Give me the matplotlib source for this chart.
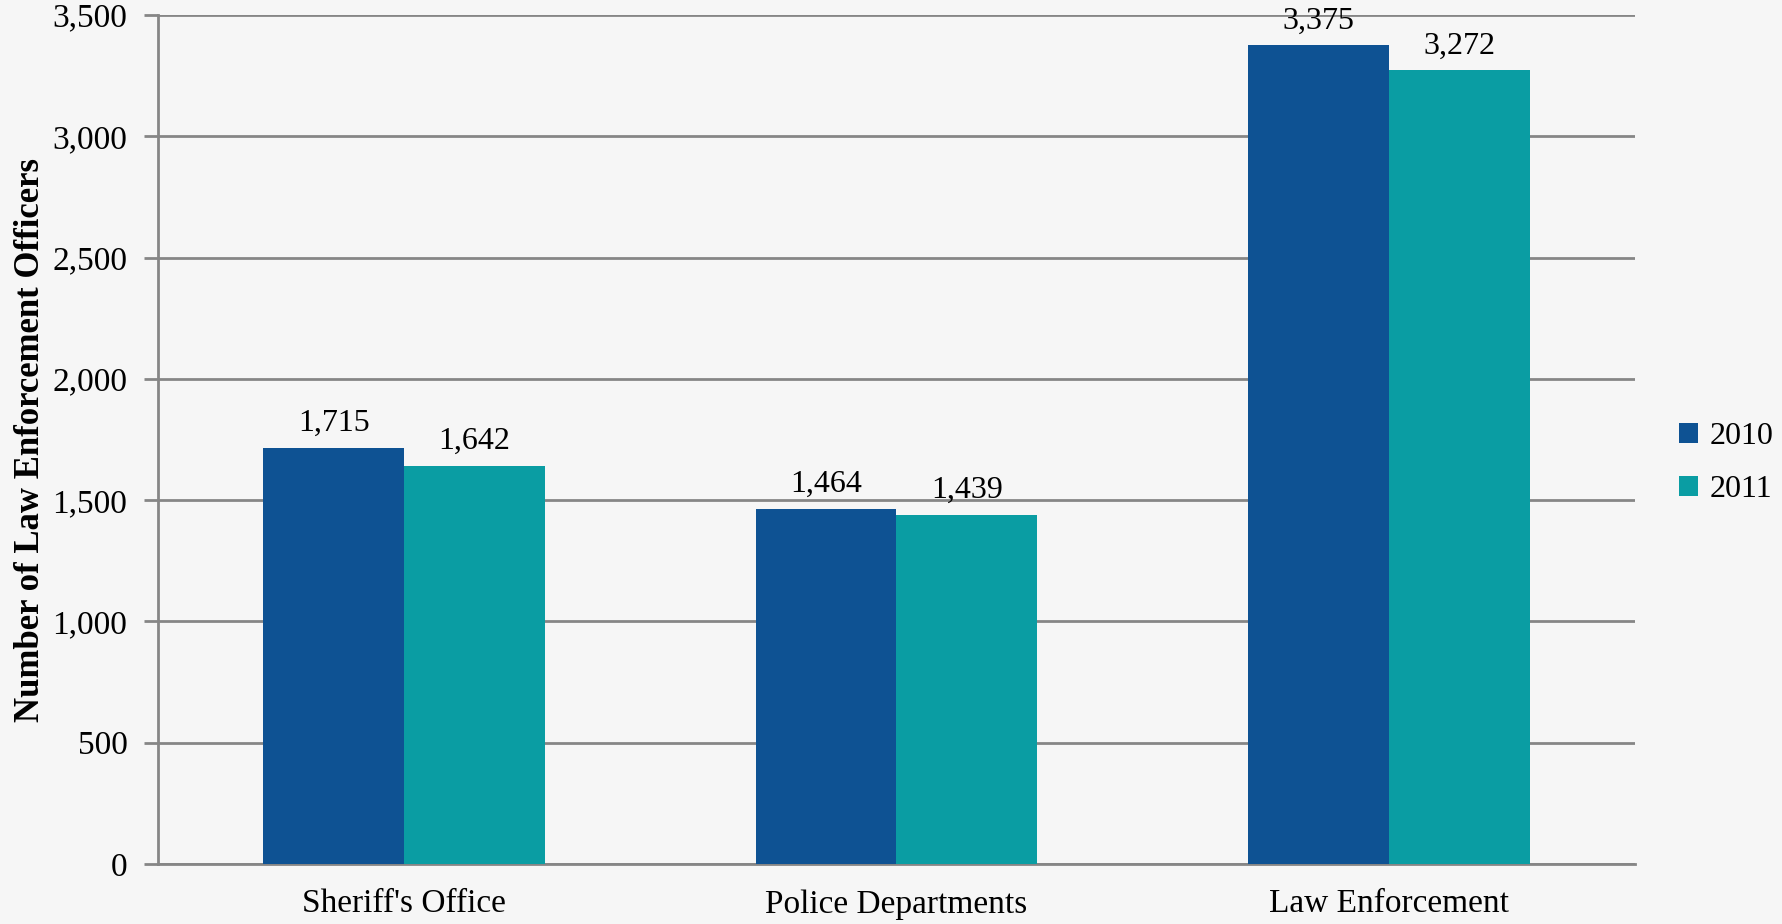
import numpy as np
import matplotlib.pyplot as plt

categories = ["Sheriff's Office", "Police Departments", "Law Enforcement"]
years = ['2010', '2011']
vals_2010 = [1715, 1464, 3375]
vals_2011 = [1642, 1439, 3272]
colors = ['#0E5293', '#0A9DA3']

plt.rcParams['font.family'] = ['Liberation Serif', 'DejaVu Serif']

fig = plt.figure(figsize=(17.83, 9.24), dpi=100)
fig.patch.set_facecolor('#F6F6F6')
ax = fig.add_axes([158/1783, 1-864/924, (1635-158)/1783, (864-15)/924])
ax.set_facecolor('#F6F6F6')

x = np.arange(len(categories))
w = 0.286
for i, (vals, yr) in enumerate(zip([vals_2010, vals_2011], years)):
    pos = x + (i - 0.5) * w
    bars = ax.bar(pos, vals, w, color=colors[i], label=yr, zorder=3)
    for p, v in zip(pos, vals):
        ax.text(p, v + 40, f'{v:,}', ha='center', va='bottom', fontsize=23, color='black', zorder=4)

ax.set_xlim(-0.5, 2.5)
ax.set_ylim(0, 3500)
ax.set_yticks(np.arange(0, 3501, 500))
ax.set_yticklabels([f'{t:,}' for t in range(0, 3501, 500)], fontsize=24)
ax.set_xticks(x)
ax.set_xticklabels(categories, fontsize=24)
ax.tick_params(axis='x', length=0, pad=18)
ax.tick_params(axis='y', length=10, width=2, color='#868686', pad=12)
ax.grid(axis='y', color='#868686', linewidth=2, zorder=1)
for s in ['top', 'right']:
    ax.spines[s].set_visible(False)
ax.spines['left'].set_color('#868686')
ax.spines['left'].set_linewidth(2)
ax.spines['bottom'].set_color('#868686')
ax.spines['bottom'].set_linewidth(2)

ax.set_ylabel('Number of Law Enforcement Officers', fontsize=25, fontweight='bold', labelpad=4)

leg = ax.legend(loc='center left', bbox_to_anchor=(1.03, 0.472), frameon=False, fontsize=23,
                handlelength=0.6, handleheight=0.6, handletextpad=0.35, labelspacing=0.75,
                borderpad=0, borderaxespad=0)

fig.savefig('out.png', dpi=100, facecolor=fig.get_facecolor())
